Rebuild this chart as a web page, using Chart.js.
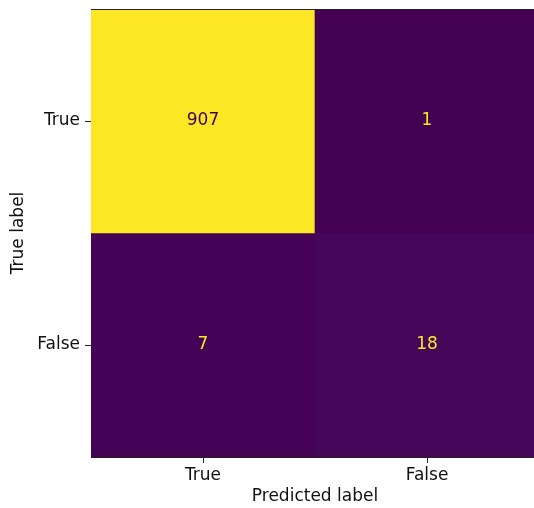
<!DOCTYPE html>
<html>
<head>
<meta charset="utf-8">
<script src="https://cdn.jsdelivr.net/npm/chart.js@4.4.1/dist/chart.umd.min.js"></script>
<style>
  html, body { margin: 0; padding: 0; background: #fff; overflow: hidden; }
  #clip { width: 534px; height: 508px; overflow: hidden; }
  #wrap { width: 540px; height: 508px; position: relative; }
</style>
</head>
<body>
<div id="clip"><div id="wrap"><canvas id="cm"></canvas></div></div>
<script>
// confusion matrix: rows = true label, columns = predicted label
const classLabels = ['True', 'False'];
const rowTrue = [907, 1];
const rowFalse = [7, 18];
const matrix = [rowTrue, rowFalse];

// viridis colormap stops
const viridis = ['#440154', '#472c7a', '#3b518b', '#2c718e', '#21908d', '#27ad81', '#5cc863', '#aadc32', '#fde725'];

function hexToRgb(h) {
  return [parseInt(h.slice(1, 3), 16), parseInt(h.slice(3, 5), 16), parseInt(h.slice(5, 7), 16)];
}

function viridisAt(t) {
  t = Math.min(1, Math.max(0, t));
  const pos = t * (viridis.length - 1);
  const i = Math.min(viridis.length - 2, Math.floor(pos));
  const f = pos - i;
  const a = hexToRgb(viridis[i]), b = hexToRgb(viridis[i + 1]);
  const c = a.map((v, k) => Math.round(v + (b[k] - v) * f));
  return 'rgb(' + c.join(',') + ')';
}

const flat = matrix.flat();
const vMin = Math.min(...flat);
const vMax = Math.max(...flat);
const norm = v => (v - vMin) / (vMax - vMin);

// one floating-bar dataset per row; each bar spans [row, row + 1] on the y scale
const datasets = matrix.map((row, r) => ({
  data: row.map(() => [r, r + 1]),
  values: row,
  backgroundColor: row.map(v => viridisAt(norm(v))),
  borderWidth: 0,
  borderSkipped: false,
  barPercentage: 1,
  categoryPercentage: 1,
  grouped: false
}));

const font = { family: 'DejaVu Sans', size: 17 };

// cell counts and the top/right frame lines
const cellText = {
  id: 'cellText',
  afterDatasetsDraw(chart) {
    const ctx = chart.ctx;
    const thresh = (vMax + vMin) / 2;
    ctx.save();
    ctx.font = font.size + 'px "' + font.family + '"';
    ctx.textAlign = 'center';
    ctx.textBaseline = 'middle';
    chart.data.datasets.forEach((ds, di) => {
      chart.getDatasetMeta(di).data.forEach((bar, j) => {
        const v = ds.values[j];
        ctx.fillStyle = v < thresh ? viridis[viridis.length - 1] : viridis[0];
        ctx.fillText(String(v), bar.x, (bar.y + bar.base) / 2);
      });
    });
    const a = chart.chartArea;
    ctx.strokeStyle = '#222';
    ctx.lineWidth = 1;
    ctx.beginPath();
    ctx.moveTo(a.left, a.top + 0.5);
    ctx.lineTo(a.right, a.top + 0.5);
    ctx.moveTo(a.right - 0.5, a.top);
    ctx.lineTo(a.right - 0.5, a.bottom);
    ctx.stroke();
    ctx.restore();
  }
};

new Chart(document.getElementById('cm'), {
  type: 'bar',
  data: { labels: classLabels, datasets: datasets },
  options: {
    responsive: true,
    maintainAspectRatio: false,
    animation: false,
    layout: { padding: { top: 9, right: 1, left: 0, bottom: 0 } },
    plugins: { legend: { display: false }, tooltip: { enabled: false } },
    scales: {
      x: {
        type: 'category',
        offset: true,
        afterFit: axis => { axis.height = 51; axis.paddingLeft = 0; axis.paddingRight = 0; },
        grid: { offset: false, drawOnChartArea: false, drawTicks: true, tickLength: 6, color: '#222' },
        border: { display: true, color: '#222', width: 1 },
        ticks: { color: '#111', font: font, padding: 2, maxRotation: 0 },
        title: { display: true, text: 'Predicted label', color: '#111', font: font, padding: { top: 0, bottom: 1 } }
      },
      y: {
        type: 'linear',
        min: 0,
        max: 2,
        reverse: true,
        afterFit: axis => { axis.width = 91; axis.paddingTop = 0; axis.paddingBottom = 0; },
        afterBuildTicks: axis => {
          axis.ticks = classLabels.map((_, i) => ({ value: i + 0.5 }));
        },
        grid: { drawOnChartArea: false, drawTicks: true, tickLength: 6, color: '#222' },
        border: { display: true, color: '#222', width: 1 },
        ticks: {
          color: '#111',
          font: font,
          padding: 5,
          callback: v => classLabels[Math.floor(v)]
        },
        title: { display: true, text: 'True label', color: '#111', font: font, padding: { top: 8, bottom: 0 } }
      }
    }
  },
  plugins: [cellText]
});
</script>
</body>
</html>
